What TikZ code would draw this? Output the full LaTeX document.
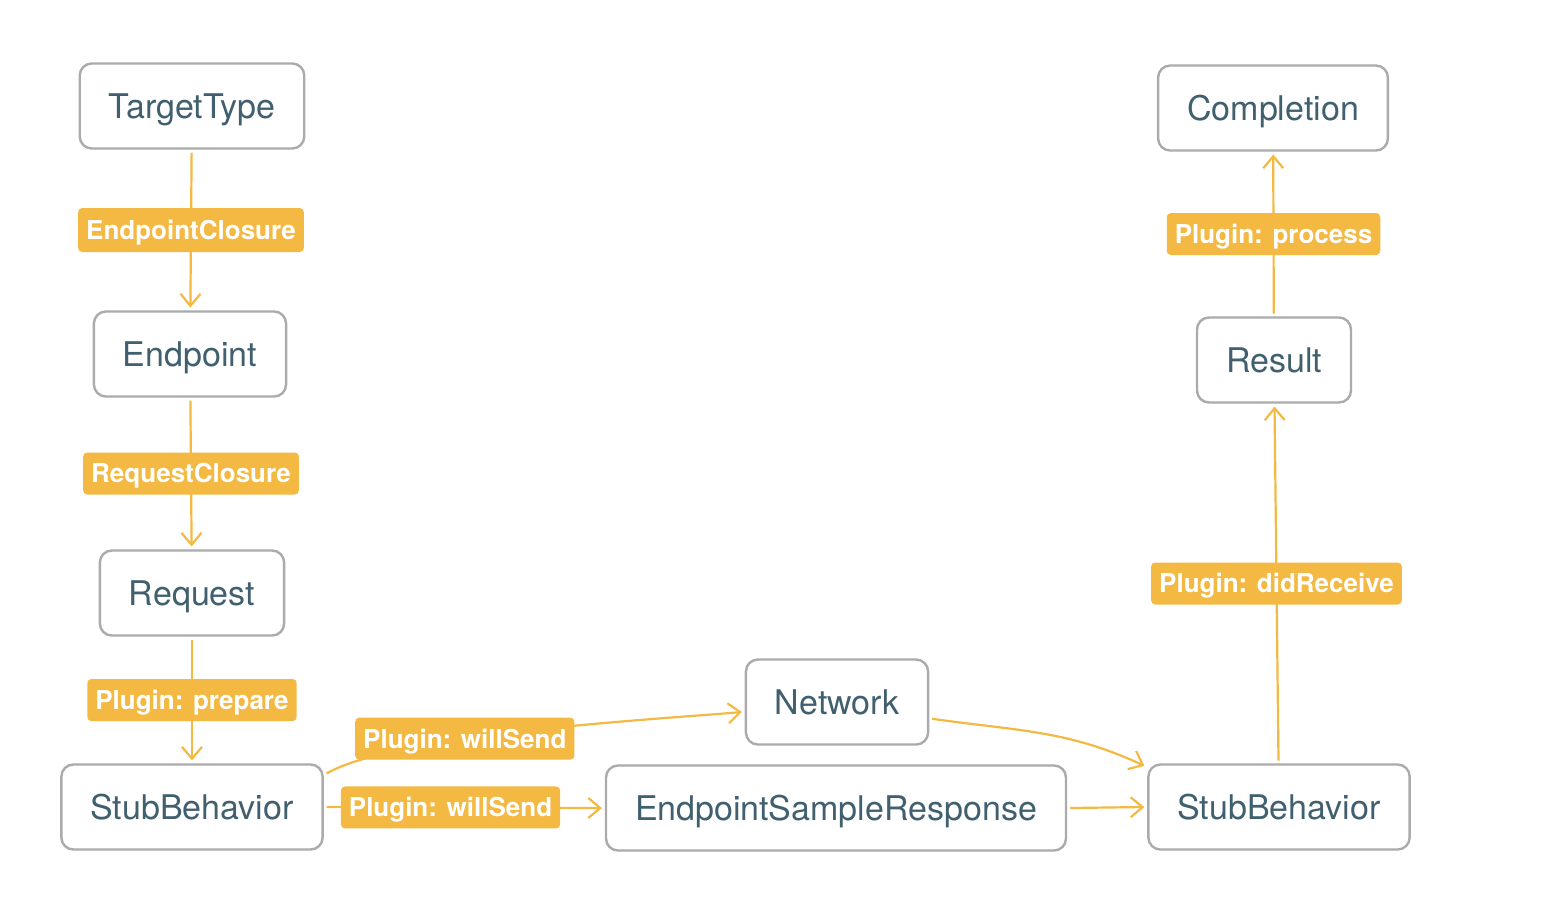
\documentclass[tikz,border=0pt]{standalone}
\usepackage{fontspec}
\setmainfont{TeX Gyre Heros}
\usetikzlibrary{arrows.meta}
\definecolor{plugorange}{HTML}{F4B942}
\definecolor{boxgray}{HTML}{ABABAB}
\definecolor{typeblue}{HTML}{41606F}

\begin{document}
\begin{tikzpicture}[x=0.5pt, y=-0.5pt,
  type/.style={draw=boxgray, line width=1.2pt, rounded corners=6pt, fill=white, text=typeblue, font=\fontsize{17}{20}\selectfont, inner xsep=14.5pt, text height=12.2pt, text depth=0pt, minimum height=42.5pt, outer sep=2pt},
  tag/.style={fill=plugorange, text=white, rounded corners=2pt, font=\fontsize{13}{15}\selectfont\bfseries, inner xsep=4pt, inner ysep=0pt, text height=9.4pt, text depth=0pt, minimum height=21pt},
  flow/.style={draw=plugorange, line width=1.1pt, -{Straight Barb[length=6pt,width=10pt]}}]
\useasboundingbox (0,0) rectangle (1552,902);
% left column
\node[type] (target) at (192,106) {TargetType};
\node[type] (endpoint) at (190,354) {Endpoint};
\node[type] (request) at (192,593) {Request};
\node[type] (stubl) at (192,807) {StubBehavior};
% middle
\node[type] (network) at (837,702) {Network};
\node[type] (sample) at (836,808) {EndpointSampleResponse};
% right column
\node[type] (stubr) at (1279,807) {StubBehavior};
\node[type] (result) at (1274,360) {Result};
\node[type] (completion) at (1273,108) {Completion};
\draw[flow] (target) -- node[tag, minimum height=22pt] {EndpointClosure} (endpoint);
\draw[flow] (endpoint) -- node[tag] {RequestClosure} (request);
\draw[flow] (request) -- node[tag] {Plugin: prepare} (stubl);
\draw[flow] (stubl.14) .. controls +(69,-40) and +(-80,7) .. node[tag, pos=0.37] {Plugin: willSend} (network.186);
\draw[flow] (stubl.east) -- node[tag, pos=0.45] {Plugin: willSend} (sample.west);
\draw[flow] (network.-10) .. controls +(84,12) and +(-77,-36) .. (stubr.163);
\draw[flow] (sample.east) -- (stubr.west);
\draw[flow] (stubr) -- node[tag] {Plugin: didReceive} (result);
\draw[flow] (result) -- node[tag] {Plugin: process} (completion);
\end{tikzpicture}
\end{document}
